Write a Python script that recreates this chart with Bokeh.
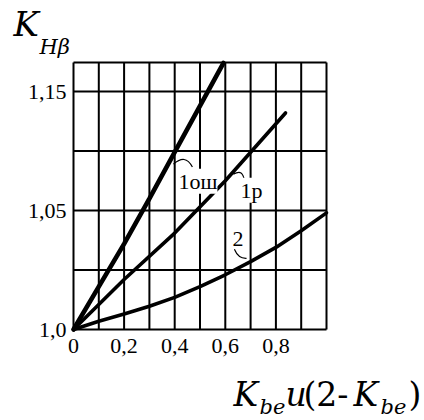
from bokeh.plotting import figure
from bokeh.models import Range1d, FixedTicker, Label, ColumnDataSource
from bokeh.embed import file_html
from bokeh.resources import INLINE

# Relative face width (x) and load factor K_Hβ for the three gear arrangements
x_1osh = [0.0, 0.1, 0.2, 0.3, 0.4, 0.5, 0.593]
k_1osh = [1.0, 1.018, 1.036, 1.055, 1.0745, 1.094, 1.112]

x_1r = [0.0, 0.2, 0.4, 0.6, 0.838]
k_1r = [1.0, 1.021, 1.0405, 1.0625, 1.091]

x_2 = [0.0, 0.1, 0.2, 0.3, 0.4, 0.5, 0.6, 0.7, 0.8, 0.9, 1.0]
k_2 = [1.0, 1.0035, 1.0065, 1.0098, 1.0135, 1.018, 1.023, 1.0285, 1.0345, 1.0415, 1.049]

curve_names = ["1ош", "1р", "2"]

# Axis ticks and their printed labels
x_ticks = [0.0, 0.2, 0.4, 0.6, 0.8]
x_tick_labels = ["0", "0,2", "0,4", "0,6", "0,8"]
y_ticks = [1.0, 1.05, 1.1]
y_tick_labels = ["1,0", "1,05", "1,15"]

# Grid lines of the nomogram (the last entries are the outer frame)
x_grid = [0.0, 0.1, 0.2, 0.3, 0.4, 0.5, 0.6, 0.7, 0.8, 0.9, 1.0]
y_grid = [1.0, 1.025, 1.05, 1.075, 1.1, 1.1122]

# Page layout: the chart field occupies px 73..326 across and 62..329 down
W, H = 424, 420
LEFT, RIGHT_GAP, TOP, BOTTOM_GAP = 73, 98, 62, 91
x_lo, x_hi = x_grid[0], x_grid[-1]
y_lo, y_hi = y_grid[0], y_grid[-1]
sx = (W - LEFT - RIGHT_GAP) / (x_hi - x_lo)
sy = (H - TOP - BOTTOM_GAP) / (y_hi - y_lo)


def at_px(px, py, font_px):
    """Data position for a text whose left edge is px and baseline is py (page pixels)."""
    py -= 0.4 * font_px  # the label box sits a little below its anchor
    return x_lo + (px - LEFT) / sx, y_lo + (H - BOTTOM_GAP - py) / sy


p = figure(width=W, height=H,
           x_range=Range1d(x_lo - LEFT / sx, x_hi + RIGHT_GAP / sx),
           y_range=Range1d(y_lo - BOTTOM_GAP / sy, y_hi + TOP / sy),
           output_backend="svg", toolbar_location=None,
           min_border=0)
p.title.visible = False
p.background_fill_color = "white"
p.border_fill_color = "white"
p.outline_line_color = None
p.grid.visible = False

# Axes pinned to the chart field so that they take no margin of their own
p.xaxis.fixed_location = y_lo
p.yaxis.fixed_location = x_lo
for ax, ticks, labels, standoff in ((p.xaxis, x_ticks, x_tick_labels, 9),
                                    (p.yaxis, y_ticks, y_tick_labels, 7)):
    ax.ticker = FixedTicker(ticks=ticks)
    ax.major_label_overrides = dict(zip(ticks, labels))
    ax.axis_line_color = None
    ax.major_tick_line_color = None
    ax.minor_tick_line_color = None
    ax.major_tick_out = 0
    ax.major_tick_in = 0
    ax.major_label_standoff = standoff
    ax.major_label_text_font = "Liberation Serif"
    ax.major_label_text_font_size = "22px"
    ax.major_label_text_color = "black"

# Rectangular grid
p.segment(x0=x_grid, x1=x_grid, y0=[y_lo] * len(x_grid), y1=[y_hi] * len(x_grid),
          line_color="black", line_width=2)
p.segment(x0=[x_lo] * len(y_grid), x1=[x_hi] * len(y_grid), y0=y_grid, y1=y_grid,
          line_color="black", line_width=2)

# The three characteristic curves
p.line(x_1osh, k_1osh, line_color="black", line_width=4.6, line_cap="round")
p.line(x_1r, k_1r, line_color="black", line_width=3.6, line_cap="round")
p.line(x_2, k_2, line_color="black", line_width=3.6, line_cap="round")

# Small leader arcs from each curve name to its curve
leaders = ColumnDataSource(dict(
    x0=[0.395, 0.632, 0.636], y0=[1.0695, 1.0653, 1.0337],
    cx0=[0.427, 0.660, 0.648], cy0=[1.0724, 1.0668, 1.0306],
    cx1=[0.450, 0.670, 0.665], cy1=[1.0722, 1.0660, 1.0298],
    x1=[0.470, 0.676, 0.684], y1=[1.0683, 1.0624, 1.0299],
))
p.bezier(x0="x0", y0="y0", x1="x1", y1="y1", cx0="cx0", cy0="cy0",
         cx1="cx1", cy1="cy1", source=leaders, line_color="black", line_width=1.2)

# Curve names, set on a white ground that interrupts the lines behind them
name_px = [(178, 188), (240, 197), (232, 246)]
for name, (nx, ny) in zip(curve_names, name_px):
    lx, ly = at_px(nx, ny, 18)
    p.add_layout(Label(x=lx, y=ly, text=name, text_font="Liberation Serif",
                       text_font_size="22px", text_color="black",
                       text_baseline="alphabetic",
                       background_fill_color="white", padding=0))


def title_piece(px, py, text, size, style="italic"):
    tx, ty = at_px(px, py, size)
    p.add_layout(Label(x=tx, y=ty, text=text, text_font="DejaVu Serif",
                       text_font_size=f"{size}px", text_font_style=style,
                       text_color="black", text_baseline="alphabetic"))


# Vertical axis title K_Hβ
title_piece(13, 37, "K", 34)
title_piece(39, 55, "Hβ", 21)

# Horizontal axis title K_be u(2-K_be)
title_piece(233, 407, "K", 33)
title_piece(259, 415, "be", 21)
title_piece(285, 407, "u", 33)
title_piece(303, 407, "(2-", 33, "normal")
title_piece(353, 407, "K", 33)
title_piece(380, 415, "be", 21)
title_piece(408, 407, ")", 33, "normal")

open("out.html", "w").write(file_html(p, INLINE))
